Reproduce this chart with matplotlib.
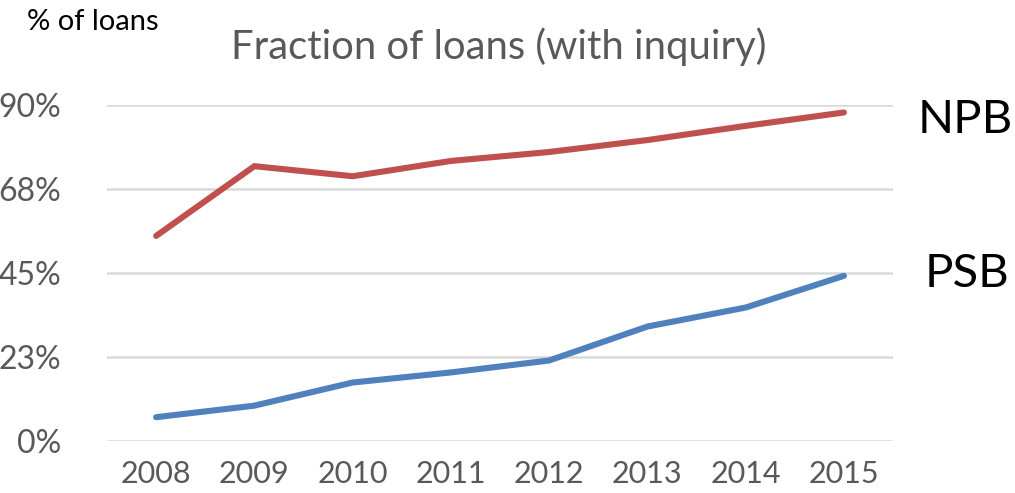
import matplotlib
matplotlib.use("Agg")
import matplotlib.pyplot as plt

years = ["2008", "2009", "2010", "2011", "2012", "2013", "2014", "2015"]
npb = [54.9, 73.6, 70.9, 75.0, 77.4, 80.6, 84.4, 88.0]
psb = [6.3, 9.4, 15.6, 18.3, 21.5, 30.6, 35.7, 44.2]
y_ticks = [0, 22.5, 45, 67.5, 90]
y_tick_labels = ["0%", "23%", "45%", "68%", "90%"]

plt.rcParams['font.family'] = ['Lato', 'DejaVu Sans']

fig = plt.figure(figsize=(10.15, 4.93), dpi=100)
ax = fig.add_axes([107/1015, 1 - 440.7/493, (893 - 107)/1015, (440.7 - 105)/493])

x = list(range(len(years)))
ax.plot(x, npb, color="#C0504D", lw=4.4, solid_capstyle="round", solid_joinstyle="round", clip_on=False, zorder=3)
ax.plot(x, psb, color="#4F81BD", lw=4.4, solid_capstyle="round", solid_joinstyle="round", clip_on=False, zorder=3)

ax.set_xlim(-0.5, len(years) - 0.5)
ax.set_ylim(0, 90)
ax.set_yticks(y_ticks)
ax.set_yticklabels(y_tick_labels)
ax.set_xticks(x)
ax.set_xticklabels(years)
ax.tick_params(axis="both", length=0, labelcolor="#595959")
ax.tick_params(axis="y", labelsize=23, pad=33)
ax.tick_params(axis="x", labelsize=22, pad=14)

ax.grid(axis="y", color="#D9D9D9", lw=1.8)
ax.set_axisbelow(True)
for s in ax.spines.values():
    s.set_visible(False)

fig.text(499/1015, 1 - 47/493, "Fraction of loans (with inquiry)", ha="center", va="center",
         fontsize=28.8, color="#595959")
fig.text(27/1015, 1 - 22/493, "% of loans", ha="left", va="center", fontsize=21, color="black")
fig.text(965/1015, 1 - 120/493, "NPB", ha="center", va="center", fontsize=34, color="black")
fig.text(967/1015, 1 - 274/493, "PSB", ha="center", va="center", fontsize=34, color="black")

fig.savefig("out.png", dpi=100)
